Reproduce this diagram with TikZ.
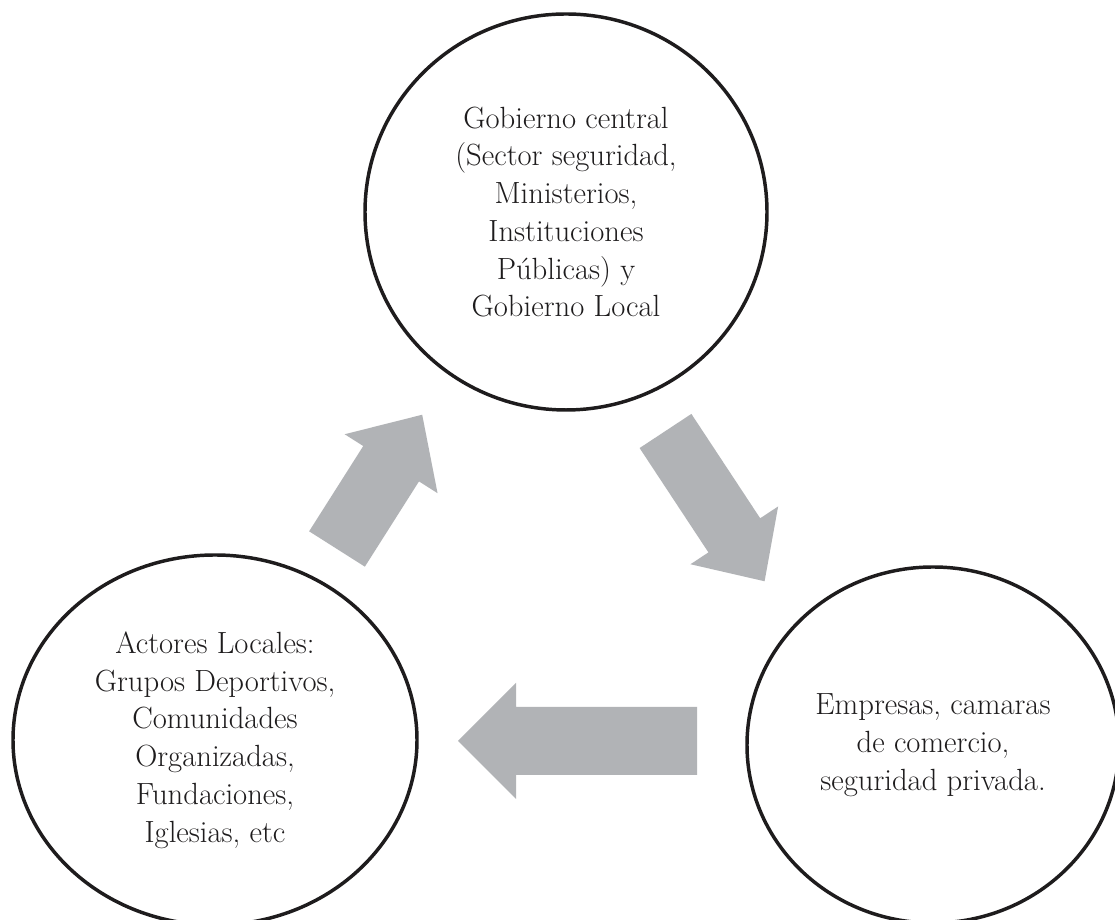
\documentclass[tikz,border=0pt]{standalone}
\usetikzlibrary{shapes.geometric}
\definecolor{arrowgray}{RGB}{177,179,182}
\definecolor{inkcol}{RGB}{30,28,29}
\begin{document}
\begin{tikzpicture}[x=0.75pt,y=0.75pt,
  bubble/.style={ellipse, draw=inkcol, line width=2.6pt, inner sep=0pt,
    align=center, text=inkcol, font=\fontsize{23}{28.3}\selectfont},
  blockarrow/.style={fill=arrowgray}]
\fill[white] (0,0) rectangle (1115,920);
\clip (0,0) rectangle (1115,920);
% circles
\node[bubble, minimum width=301.5pt, minimum height=297pt] (top) at (566,708)
  {Gobierno central\\(Sector seguridad,\\Ministerios,\\Instituciones\\P\'ublicas) y\\Gobierno Local};
\node[bubble, minimum width=303pt, minimum height=277.5pt] (left) at (215,180)
  {Actores Locales:\\Grupos Deportivos,\\Comunidades\\Organizadas,\\Fundaciones,\\Iglesias, etc};
\node[bubble, minimum width=279pt, minimum height=267pt] (right) at (933,175)
  {Empresas, camaras\\de comercio,\\seguridad privada.};
% arrow from left to top
\begin{scope}[shift={(337,371)}, rotate=57.6]
  \fill[blockarrow] (0,-33) -- (101,-33) -- (101,-55) -- (159,0) -- (101,55) -- (101,33) -- (0,33) -- cycle;
\end{scope}
% arrow from top to right
\begin{scope}[shift={(665.5,489)}, rotate=-56.6]
  \fill[blockarrow] (0,-31) -- (125,-31) -- (125,-52.5) -- (180,0) -- (125,52.5) -- (125,31) -- (0,31) -- cycle;
\end{scope}
% arrow from right to left
\begin{scope}[shift={(697,179)}, rotate=180]
  \fill[blockarrow] (0,-34) -- (181,-34) -- (181,-58) -- (239,0) -- (181,58) -- (181,34) -- (0,34) -- cycle;
\end{scope}
\end{tikzpicture}
\end{document}
